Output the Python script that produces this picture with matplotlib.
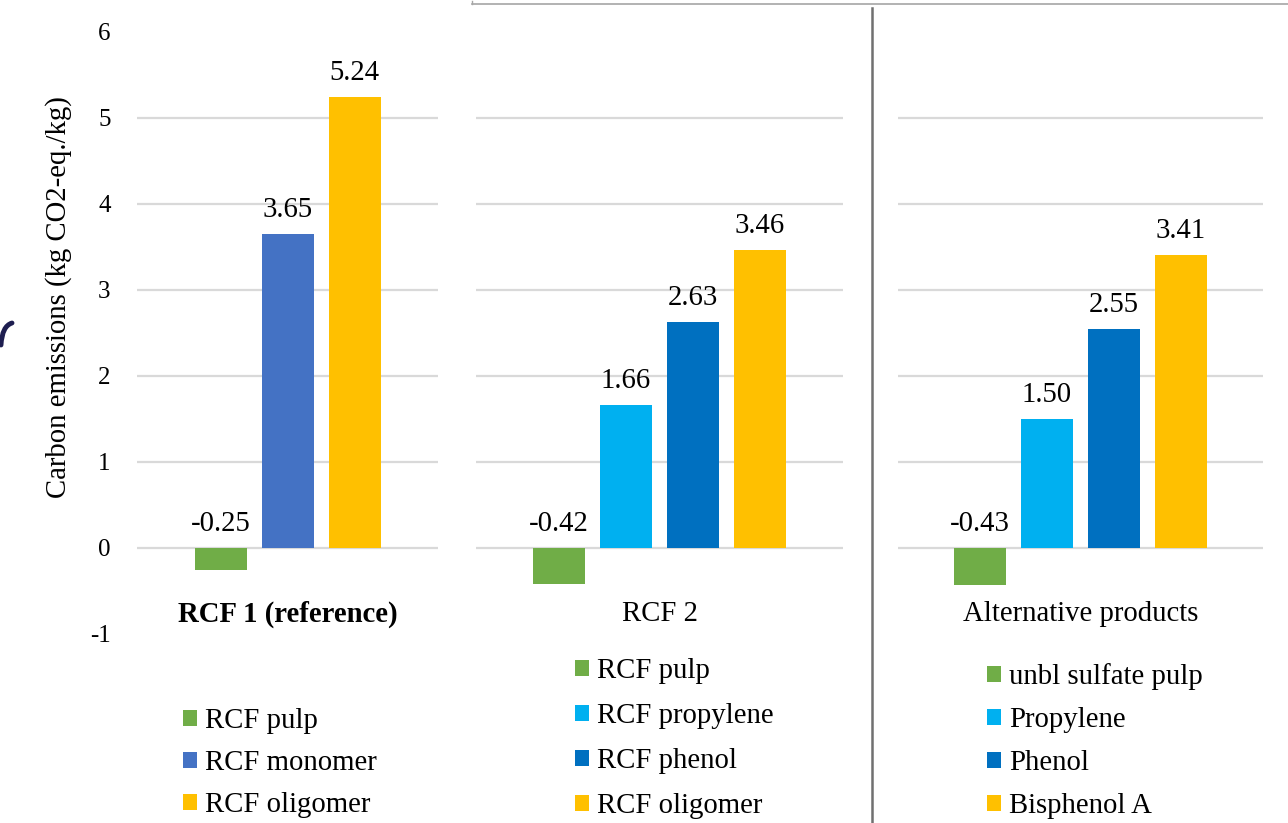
import matplotlib.pyplot as plt
from matplotlib.patches import Patch, PathPatch
from matplotlib.lines import Line2D
from matplotlib.path import Path

plt.rcParams["font.family"] = ["Liberation Serif", "DejaVu Serif"]

# carbon emissions per product, kg CO2-eq./kg
RCF1_LABELS = ["RCF pulp", "RCF monomer", "RCF oligomer"]
RCF1_VALUES = [-0.25, 3.65, 5.24]
RCF1_COLORS = ["#70AD47", "#4472C4", "#FFC000"]

RCF2_LABELS = ["RCF pulp", "RCF propylene", "RCF phenol", "RCF oligomer"]
RCF2_VALUES = [-0.42, 1.66, 2.63, 3.46]
RCF2_COLORS = ["#70AD47", "#00B0F0", "#0070C0", "#FFC000"]

ALT_LABELS = ["unbl sulfate pulp", "Propylene", "Phenol", "Bisphenol A"]
ALT_VALUES = [-0.43, 1.50, 2.55, 3.41]
ALT_COLORS = ["#70AD47", "#00B0F0", "#0070C0", "#FFC000"]

GROUP_NAMES = ["RCF 1 (reference)", "RCF 2", "Alternative products"]
Y_TICKS = [-1, 0, 1, 2, 3, 4, 5, 6]
GRID_LEVELS = [0, 1, 2, 3, 4, 5]

W, H = 1288, 823
PITCH = 67.0  # px between neighbouring bars
BAR_W = 52 / PITCH
FS = 20.7

fig = plt.figure(figsize=(W / 100, H / 100), dpi=100)

panels = [
    # left px, width px, legend x px, legend top px, legend spacing
    (137, 301, 183, 708, 0.56, RCF1_LABELS, RCF1_VALUES, RCF1_COLORS),
    (476, 367, 575, 658, 0.66, RCF2_LABELS, RCF2_VALUES, RCF2_COLORS),
    (898, 365, 987, 663, 0.59, ALT_LABELS, ALT_VALUES, ALT_COLORS),
]

bottom = (H - 634) / H
height = 602 / H

for i, (left, width, lx, ly, lsp, labels, values, colors) in enumerate(panels):
    ax = fig.add_axes([left / W, bottom, width / W, height])
    n = len(values)
    xs = list(range(n))
    mid = (n - 1) / 2
    half = width / 2 / PITCH
    ax.set_xlim(mid - half, mid + half)
    ax.set_ylim(-1, 6)

    for g in GRID_LEVELS:
        ax.axhline(g, color="#D9D9D9", lw=1.6, zorder=0)

    ax.bar(xs, values, width=BAR_W, color=colors, zorder=2)
    for x, v in zip(xs, values):
        ax.annotate(f"{v:.2f}", xy=(x, max(v, 0)), xytext=(0, 8),
                    textcoords="offset points", ha="center", va="bottom",
                    fontsize=FS, color="#000000")

    ax.text(mid, -0.77, GROUP_NAMES[i], ha="center", va="center",
            fontsize=FS, fontweight="bold" if i == 0 else "normal")

    for s in ax.spines.values():
        s.set_visible(False)
    ax.set_xticks([])
    if i == 0:
        ax.set_yticks(Y_TICKS)
        ax.set_yticklabels([str(t) for t in Y_TICKS])
        ax.tick_params(axis="y", length=0, pad=19, labelsize=18)
    else:
        ax.set_yticks([])

    handles = [Patch(facecolor=c, edgecolor="none") for c in colors]
    fig.legend(handles, labels, loc="upper left",
               bbox_to_anchor=(lx / W, 1 - ly / H), frameon=False,
               fontsize=FS, handlelength=0.48, handleheight=0.48,
               handletextpad=0.3, labelspacing=lsp, borderpad=0,
               borderaxespad=0)

fig.text(59 / W, 1 - 297 / H, "Carbon emissions (kg CO2-eq./kg)",
         rotation=90, ha="center", va="center", fontsize=FS)

# frame lines around the right-hand panels
fig.add_artist(Line2D([472 / W, 1.0], [1 - 4 / H, 1 - 4 / H],
                      transform=fig.transFigure, color="#A6A6A6", lw=1.2))
fig.add_artist(Line2D([472 / W, 472 / W], [1 - 1 / H, 1 - 4 / H],
                      transform=fig.transFigure, color="#A6A6A6", lw=1.0))
fig.add_artist(Line2D([872 / W, 872 / W], [1 - 8 / H, 0.0],
                      transform=fig.transFigure, color="#707070", lw=1.8))

# small hook at the left edge
hook = Path([(1 / W, 1 - 345 / H), (2 / W, 1 - 326 / H), (12 / W, 1 - 323 / H)],
            [Path.MOVETO, Path.CURVE3, Path.CURVE3])
fig.add_artist(PathPatch(hook, transform=fig.transFigure, facecolor="none",
                         edgecolor="#1E1E50", lw=3.5, capstyle="round"))

fig.savefig("out.png", dpi=100)
